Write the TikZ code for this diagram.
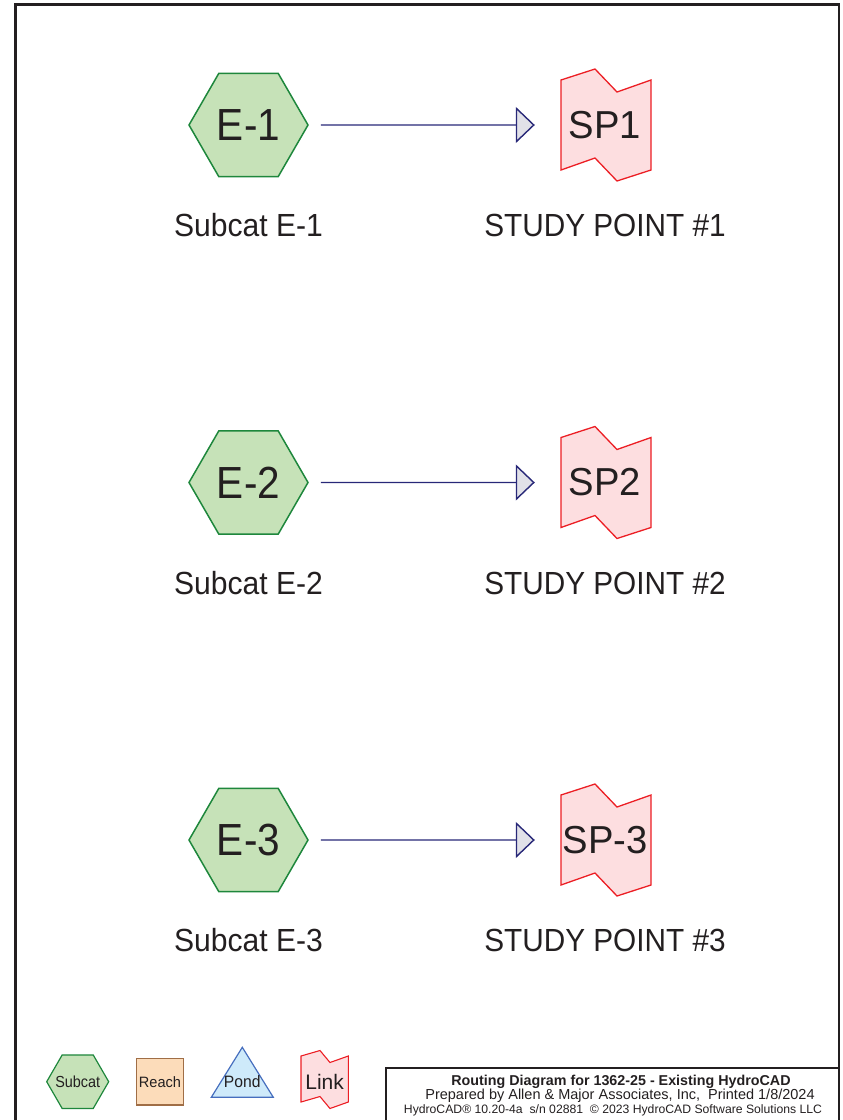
\documentclass[tikz,border=0pt]{standalone}
\usepackage{fontspec}
\usepackage{graphicx}
\setmainfont{Liberation Sans}
\usetikzlibrary{arrows.meta,shapes.geometric}

\definecolor{ink}{RGB}{35,31,32}
\definecolor{hexfill}{RGB}{198,226,184}
\definecolor{hexdraw}{RGB}{30,135,60}
\definecolor{linkfill}{RGB}{253,222,224}
\definecolor{linkdraw}{RGB}{236,30,36}
\definecolor{flowcol}{RGB}{40,40,120}
\definecolor{tipfill}{RGB}{225,225,232}
\definecolor{reachfill}{RGB}{252,220,186}
\definecolor{reachdraw}{RGB}{160,110,70}
\definecolor{pondfill}{RGB}{206,234,250}
\definecolor{ponddraw}{RGB}{70,110,190}

\newcommand{\fs}[1]{\fontsize{#1}{#1}\selectfont}
\newcommand{\sx}[2]{\scalebox{#1}[1]{#2}}

\begin{document}
\begin{tikzpicture}[x=1pt,y=-1pt,
  subcat/.style={regular polygon, regular polygon sides=6, minimum size=119pt,
    inner sep=0pt, draw=hexdraw, fill=hexfill, line width=1.5pt, text=ink, font=\fs{45}},
  linkshape/.style={draw=linkdraw, fill=linkfill, line width=1.3pt, line join=miter},
  linktext/.style={minimum width=90pt, minimum height=90pt, inner sep=0pt, text=ink, font=\fs{39}},
  flow/.style={draw=flowcol, line width=1.4pt,
    -{Triangle[length=19pt, width=36pt, fill=tipfill, line join=miter]},
    shorten <=12pt, shorten >=26pt},
  caption/.style={text=ink, inner sep=0pt, anchor=base, font=\fs{32}},
  frameline/.style={draw=ink, line width=2.4pt, line cap=rect, line join=miter},
  titletext/.style={text=ink, inner sep=0pt, anchor=base},
  legendtext/.style={text=ink, inner sep=0pt},
]
\useasboundingbox (0,0) rectangle (843,1120);
\clip (0,0) rectangle (843,1120);

% sheet border, running past the bottom edge
\draw[frameline] (15.5,1140) -- (15.5,4.5) -- (838.7,4.5) -- (838.7,1140);

% three subcatchment -> study point rows
\foreach \n/\y/\sp in {1/125/SP1, 2/482.5/SP2, 3/840/SP-3} {
  \node[subcat] (e\n) at (248.5,\y) {\sx{0.9}{E-\n}};
  \draw[linkshape, shift={(606,\y)}]
    (-45,-45) -- (-11,-56) -- (11,-33) -- (45,-45) --
    (45,45) -- (11,56) -- (-11,33) -- (-45,45) -- cycle;
  \node[linktext] (sp\n) at (605,\y) {\raisebox{-2.5pt}{\sx{0.98}{\sp}}};
  \draw[flow] (e\n.east) -- ([xshift=1pt]sp\n.west);
  \node[caption] (cap-e\n) at (248.5,\y+111.7) {\sx{0.94}{Subcat E-\n}};
  \node[caption] (cap-sp\n) at (605,\y+111.7) {\sx{0.93}{STUDY POINT \#\n}};
}

% legend
\draw[draw=hexdraw, fill=hexfill, line width=1.2pt, line join=miter]
  (46.7,1081.7) -- (62.2,1054.9) -- (93.2,1054.9) -- (108.7,1081.7) --
  (93.2,1108.5) -- (62.2,1108.5) -- cycle;
\node[legendtext, font=\fs{16}] (lg-subcat) at (77.7,1082) {\sx{0.9}{Subcat}};
\node[draw=reachdraw, fill=reachfill, line width=1.2pt, minimum width=46.6pt,
  minimum height=46.7pt, inner sep=0pt, text=ink, font=\fs{15}]
  (lg-reach) at (160,1081.7) {\sx{0.97}{Reach}};
\draw[draw=ponddraw, fill=pondfill, line width=1.2pt, line join=miter]
  (242.3,1047.3) -- (273.3,1097.3) -- (211.3,1097.3) -- cycle;
\node[legendtext, font=\fs{16.5}] (lg-pond) at (242.3,1082) {\sx{0.95}{Pond}};
\draw[linkshape, line width=1.1pt]
  (301,1056) -- (320,1050.5) -- (330,1062.5) -- (348.3,1056) --
  (348.3,1102) -- (330,1108.5) -- (320,1096.5) -- (301,1102) -- cycle;
\node[legendtext, font=\fs{21}] (lg-link) at (324.6,1082) {Link};

% title block
\draw[frameline] (386,1148) -- (386,1068) -- (838.7,1068);
\node[titletext, font=\bfseries\fs{14.3}] (title1) at (621,1085.5)
  {Routing Diagram for 1362-25 - Existing HydroCAD};
\node[titletext, font=\fs{14.5}] (title2) at (620,1099.8)
  {Prepared by Allen \& Major Associates, Inc,\ \ Printed 1/8/2024};
\node[titletext, font=\fs{12.2}] (title3) at (613,1113.8)
  {HydroCAD® 10.20-4a\ \ s/n 02881\ \ © 2023 HydroCAD Software Solutions LLC};
\end{tikzpicture}
\end{document}
